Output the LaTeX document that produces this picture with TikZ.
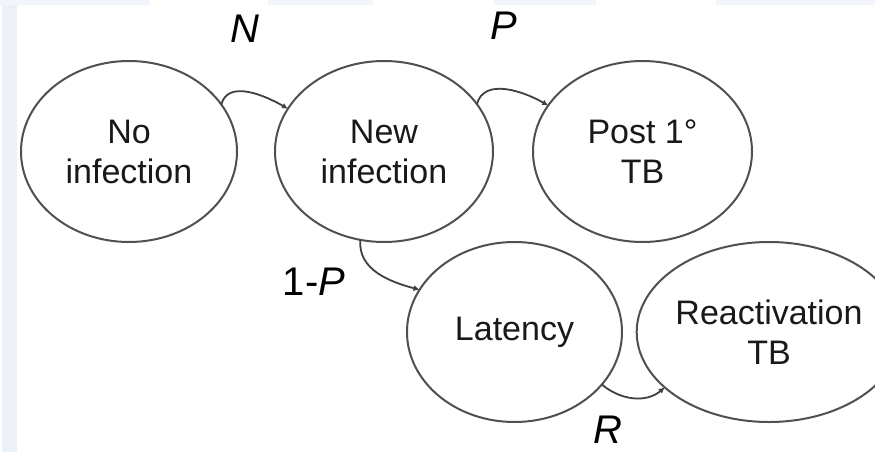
\documentclass[tikz,border=0pt]{standalone}
\usepackage{fontspec}
\setmainfont{Liberation Sans}
\usetikzlibrary{shapes.geometric,arrows.meta}
\definecolor{edgegray}{HTML}{505050}
\definecolor{stripblue}{HTML}{EBF0F9}
\definecolor{topblue}{HTML}{F3F5FC}
\tikzset{
  state/.style={ellipse, draw=edgegray, line width=2pt, inner sep=0pt, outer sep=0pt,
    align=center, text=black!90, font=\fontsize{34}{40}\selectfont},
  flow/.style={draw=black!75, line width=1.8pt, -{Latex[length=6pt,width=6pt]}},
  rate/.style={font=\fontsize{40}{44}\selectfont, text=black, inner sep=0pt}
}
\begin{document}
\begin{tikzpicture}[x=1pt,y=1pt]
\useasboundingbox (0,0) rectangle (875,-452);
\fill[white] (0,0) rectangle (875,-452);
% light background strips
\fill[topblue] (0,0) rectangle (150,-5);
\fill[topblue] (268,0) rectangle (373,-5);
\fill[topblue] (494,0) rectangle (596,-5);
\fill[topblue] (716,0) rectangle (875,-5);
\fill[stripblue] (2,-5) rectangle (17,-452);

\node[state, minimum width=216pt, minimum height=181pt] (noinf) at (129,-151.5) {No\\infection};
\node[state, minimum width=218pt, minimum height=181pt] (newinf) at (384,-151.5) {New\\infection};
\node[state, minimum width=219pt, minimum height=181pt] (post) at (642.5,-151.5) {Post 1\textdegree\\TB};
\node[state, minimum width=215pt, minimum height=180pt] (lat) at (514.5,-332) {Latency};
\node[state, minimum width=208pt, minimum height=180pt] (react) at (769,-332) {Reactivation\\TB};

\draw[flow] (noinf.27) to[out=75,in=150] (newinf.156);
\draw[flow] (newinf.27) to[out=75,in=150] (post.154);
\draw[flow] (newinf.255) to[out=-95,in=165] (lat.156);
\draw[flow] (lat.-31) to[out=-40,in=220] (react.208);

\node[rate] (lN) at (245,-29) {\itshape N};
\node[rate] (lP) at (504,-26) {\itshape P};
\node[rate] (l1P) at (314,-282) {1-\textit{P}};
\node[rate] (lR) at (608,-430) {\itshape R};
\end{tikzpicture}
\end{document}
